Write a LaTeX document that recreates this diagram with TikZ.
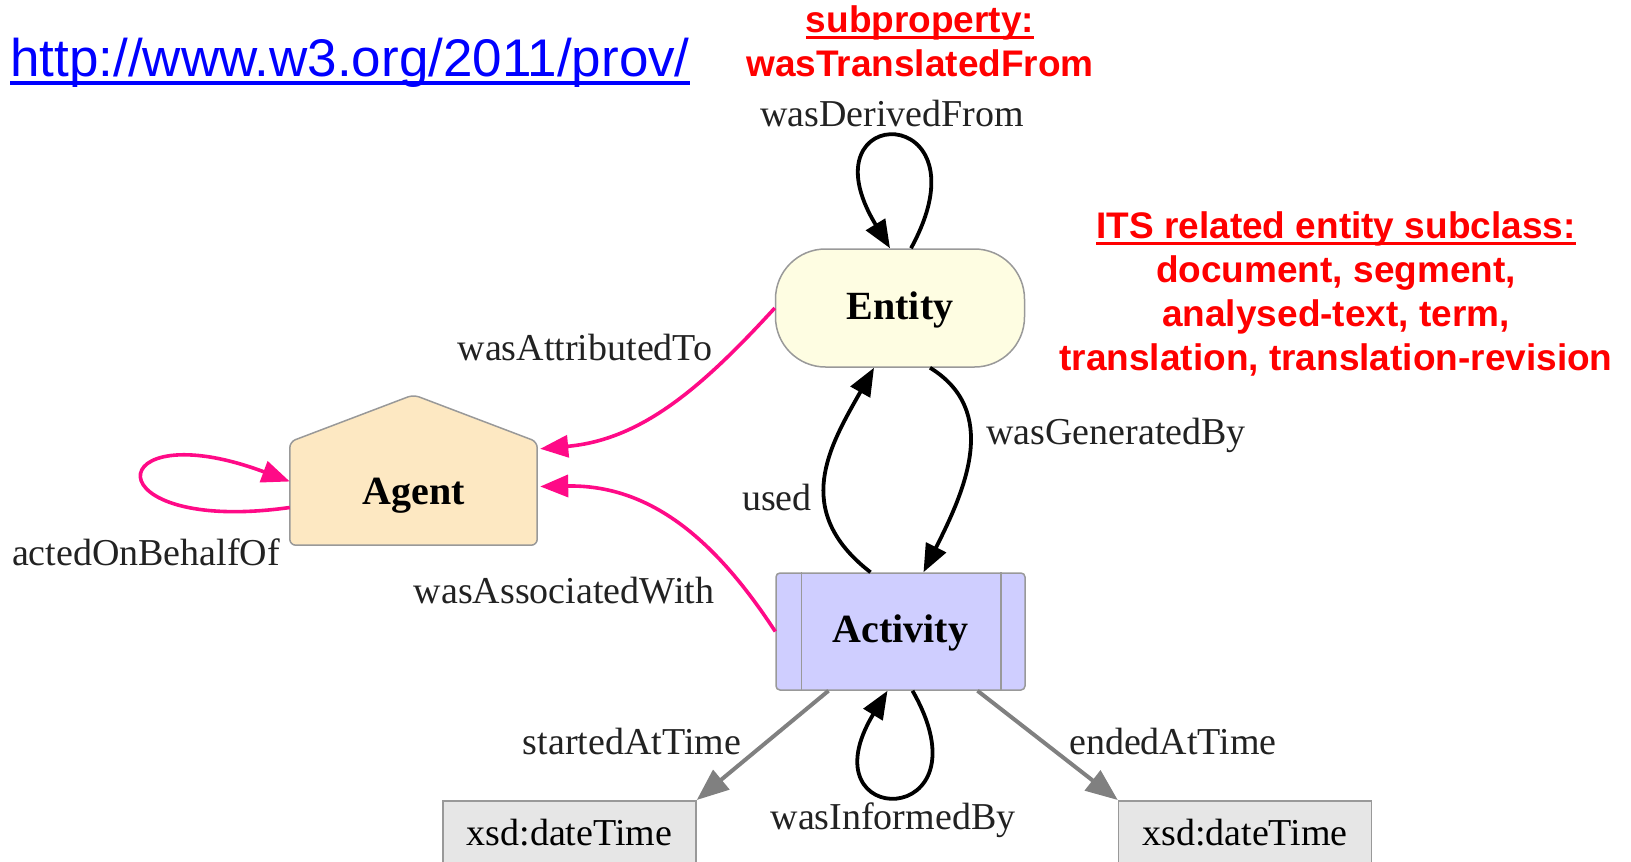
\documentclass[tikz,border=0pt]{standalone}
\usepackage{fontspec}
\setmainfont{Liberation Serif}
\newfontfamily\arialfont{Liberation Sans}
\usetikzlibrary{arrows.meta,positioning,calc,backgrounds}

\definecolor{entityfill}{RGB}{254,253,226}
\definecolor{agentfill}{RGB}{253,232,194}
\definecolor{activityfill}{RGB}{207,206,255}
\definecolor{xsdfill}{RGB}{230,230,230}
\definecolor{nodeborder}{RGB}{153,153,153}
\definecolor{provpink}{RGB}{255,10,135}
\definecolor{timegray}{RGB}{128,128,128}
\definecolor{notered}{RGB}{255,0,0}
\definecolor{urlblue}{RGB}{0,0,255}
\definecolor{labelgray}{RGB}{34,34,34}

% underline that sits just under the baseline
\newsavebox{\undlbox}
\newcommand{\undl}[1]{\sbox{\undlbox}{#1}\rlap{\rule[-0.17em]{\wd\undlbox}{0.08em}}\usebox{\undlbox}}

\begin{document}
\begin{tikzpicture}[
  x=1pt, y=-1pt,
  nodefont/.style={font=\fontsize{40}{44}\selectfont\bfseries, text height=28pt, text depth=6pt},
  entitybox/.style={rectangle, draw=nodeborder, line width=1.5pt, fill=entityfill,
                    rounded corners=50pt, minimum width=249pt, minimum height=118pt, nodefont},
  agentbox/.style={rectangle, minimum width=247pt, minimum height=103pt, nodefont},
  house/.style={draw=nodeborder, line width=1.5pt, fill=agentfill, rounded corners=6pt},
  activitybox/.style={rectangle, draw=nodeborder, line width=1.5pt, fill=activityfill,
                      rounded corners=4pt, minimum width=249pt, minimum height=117pt, nodefont},
  xsdbox/.style={rectangle, draw=nodeborder, line width=1.5pt, fill=xsdfill, anchor=north,
                 minimum width=253pt, minimum height=75pt,
                 font=\fontsize{38}{40}\selectfont, text height=26pt, text depth=12pt},
  edgelabel/.style={font=\fontsize{38}{40}\selectfont, text=labelgray, anchor=base, inner sep=0pt},
  notetext/.style={align=center, text=notered, inner sep=0pt,
                   font=\arialfont\bfseries\fontsize{37}{44}\selectfont},
  urltext/.style={anchor=base west, inner sep=0pt, text=urlblue,
                  font=\arialfont\fontsize{53}{60}\selectfont},
  blackarrow/.style={-{Triangle[length=28pt,width=22pt]}, line width=3.8pt, black},
  pinkarrow/.style={-{Triangle[length=28pt,width=22pt]}, line width=3.6pt, provpink},
  grayarrow/.style={-{Triangle[length=32pt,width=25pt]}, line width=4pt, timegray}
]
  \useasboundingbox (0,0) rectangle (1631,862);
  \clip (0,0) rectangle (1631,862);

  % Notes
  \node[urltext] (url) at (10,76) {\undl{http://www.w3.org/2011/prov/}};
  \node[notetext] (subprop) at (920,41) {\undl{subproperty:}\\wasTranslatedFrom};
  \node[notetext] (itsnote) at (1336,294)
    {\undl{ITS related entity subclass:}\\document, segment,\\analysed-text, term,\\translation, translation-revision};

  % Nodes
  \node[entitybox]   (entity)   at (900,308)     {Entity};
  \node[agentbox]    (agent)    at (413.5,493.5) {Agent};
  \node[activitybox] (activity) at (900.5,631.5) {Activity};
  \node[xsdbox] (startxsd) at (569.5,800) {xsd:dateTime};
  \node[xsdbox] (endxsd)   at (1245,800)  {xsd:dateTime};

  % Agent outline and Activity side bars
  \begin{scope}[on background layer]
    \draw[house] (agent.south) -- (agent.south west) -- (agent.north west)
      -- ($(agent.north)+(0,-47)$) -- (agent.north east) -- (agent.south east) -- cycle;
  \end{scope}
  \draw[nodeborder, line width=1.5pt] ($(activity.north west)+(26,0)$) -- ($(activity.south west)+(26,0)$);
  \draw[nodeborder, line width=1.5pt] ($(activity.north east)+(-25,0)$) -- ($(activity.south east)+(-25,0)$);

  % Edge labels
  \node[edgelabel] (lderived)    at (892,126)  {wasDerivedFrom};
  \node[edgelabel] (lattributed) at (585,360)  {wasAttributedTo};
  \node[edgelabel] (lused)       at (777,510)  {used};
  \node[edgelabel] (lgenerated)  at (1116,444) {wasGeneratedBy};
  \node[edgelabel] (lacted)      at (146,565)  {actedOnBehalfOf};
  \node[edgelabel] (lassociated) at (564,603)  {wasAssociatedWith};
  \node[edgelabel] (lstarted)    at (632,754)  {startedAtTime};
  \node[edgelabel] (lended)      at (1173,754) {endedAtTime};
  \node[edgelabel] (linformed)   at (893,829)  {wasInformedBy};

  % Black arrows
  \draw[blackarrow] ($(entity.north)+(11,0)$) .. controls +(81,-148) and +(-90,-148) .. ($(entity.north)+(-10,0)$);
  \draw[blackarrow] ($(activity.south)+(12,0)$) .. controls +(80,140) and +(-85,140) .. ($(activity.south)+(-13,0)$);
  \draw[blackarrow] ($(activity.north)+(-30,0)$) .. controls +(-80,-62) and +(-44,78) .. ($(entity.south)+(-26,0)$);
  \draw[blackarrow] ($(entity.south)+(30,0)$) .. controls +(70,43) and +(42,-83) .. ($(activity.north)+(23,0)$);

  % Pink arrows (to agent)
  \draw[pinkarrow] (entity.west) .. controls +(-75,82) and +(100,-9) .. ($(agent.north east)+(3,7)$);
  \draw[pinkarrow] (activity.west) .. controls +(-60,-92) and +(110,-2) .. ($(agent.east)+(3,-7)$);
  \draw[pinkarrow] ($(agent.west)+(0,14)$) .. controls +(-200,28) and +(-190,-71) .. ($(agent.west)+(0,-12)$);

  % Gray arrows (times)
  \draw[grayarrow] ($(activity.south)+(-72,0)$) -- (startxsd.north east);
  \draw[grayarrow] ($(activity.south)+(77,0)$) -- (endxsd.north west);
\end{tikzpicture}
\end{document}
